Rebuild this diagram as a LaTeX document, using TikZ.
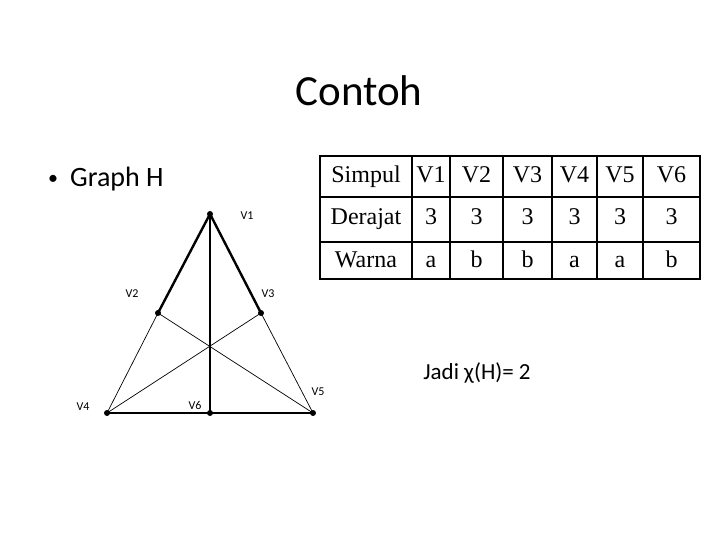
\documentclass[tikz,border=0pt]{standalone}
\usepackage{fontspec}
\setmainfont{Carlito}
\newfontfamily\tnr{Liberation Serif}
\begin{document}
\begin{tikzpicture}[x=1pt,y=-1pt,
  vdot/.style={circle,fill=black,inner sep=0pt,minimum size=6pt},
  vlab/.style={font=\fontsize{12}{14}\selectfont,inner sep=0pt},
  thick edge/.style={line width=2.4pt},
  mid edge/.style={line width=1.2pt},
  thin edge/.style={line width=0.7pt},
  cell/.style={font=\tnr\fontsize{24}{28}\selectfont,anchor=base,inner sep=0pt},
  grid line/.style={line width=1.4pt}]
\useasboundingbox (0,0) rectangle (720,540);
% title
\node[font=\fontsize{43}{50}\selectfont,inner sep=0pt] (title) at (359,91) {Contoh};
\node[font=\fontsize{20}{24}\selectfont,inner sep=0pt,anchor=center] (bullet) at (53,180) {•};
\node[font=\fontsize{28}{32}\selectfont,inner sep=0pt,anchor=base west] (graphh) at (70,187) {Graph H};
% graph
\node[vdot] (v1) at (210,214) {};
\node[vdot] (v2) at (158,313) {};
\node[vdot] (v3) at (261,313) {};
\node[vdot] (v4) at (107,413) {};
\node[vdot] (v6) at (210,413) {};
\node[vdot] (v5) at (313,413) {};
\draw[thick edge] (v1.center) -- (v2.center);
\draw[thick edge] (v1.center) -- (v3.center);
\draw[thick edge] (v4.center) -- (v6.center);
\draw[thick edge] (v6.center) -- (v5.center);
\draw[mid edge] (v1.center) -- (v6.center);
\draw[thin edge] (v2.center) -- (v4.center);
\draw[thin edge] (v2.center) -- (v5.center);
\draw[thin edge] (v3.center) -- (v4.center);
\draw[thin edge] (v3.center) -- (v5.center);
\node[vlab] (l1) at (247,216) {V1};
\node[vlab] (l2) at (132,294) {V2};
\node[vlab] (l3) at (268,294) {V3};
\node[vlab] (l4) at (83,407) {V4};
\node[vlab] (l6) at (195,405) {V6};
\node[vlab] (l5) at (318,392) {V5};
% table
\draw[grid line] (320,156) rectangle (700,279);
\foreach \yy in {197,242} \draw[grid line] (320,\yy) -- (700,\yy);
\foreach \xx in {412,450,503,552,597,643} \draw[grid line] (\xx,156) -- (\xx,279);
\node[cell] (s0) at (366,183) {Simpul};
\node[cell] (s1) at (431,183) {V1};
\node[cell] (s2) at (476.5,183) {V2};
\node[cell] (s3) at (527.5,183) {V3};
\node[cell] (s4) at (574.5,183) {V4};
\node[cell] (s5) at (620,183) {V5};
\node[cell] (s6) at (671.5,183) {V6};
\node[cell] (d0) at (366,225) {Derajat};
\node[cell] (d1) at (431,225) {3};
\node[cell] (d2) at (476.5,225) {3};
\node[cell] (d3) at (527.5,225) {3};
\node[cell] (d4) at (574.5,225) {3};
\node[cell] (d5) at (620,225) {3};
\node[cell] (d6) at (671.5,225) {3};
\node[cell] (w0) at (366,267) {Warna};
\node[cell] (w1) at (431,267) {a};
\node[cell] (w2) at (476.5,267) {b};
\node[cell] (w3) at (527.5,267) {b};
\node[cell] (w4) at (574.5,267) {a};
\node[cell] (w5) at (620,267) {a};
\node[cell] (w6) at (671.5,267) {b};
% conclusion
\node[font=\fontsize{23}{27}\selectfont,inner sep=0pt,anchor=base] (jadi) at (477,379) {Jadi χ(H)= 2};
\end{tikzpicture}
\end{document}
